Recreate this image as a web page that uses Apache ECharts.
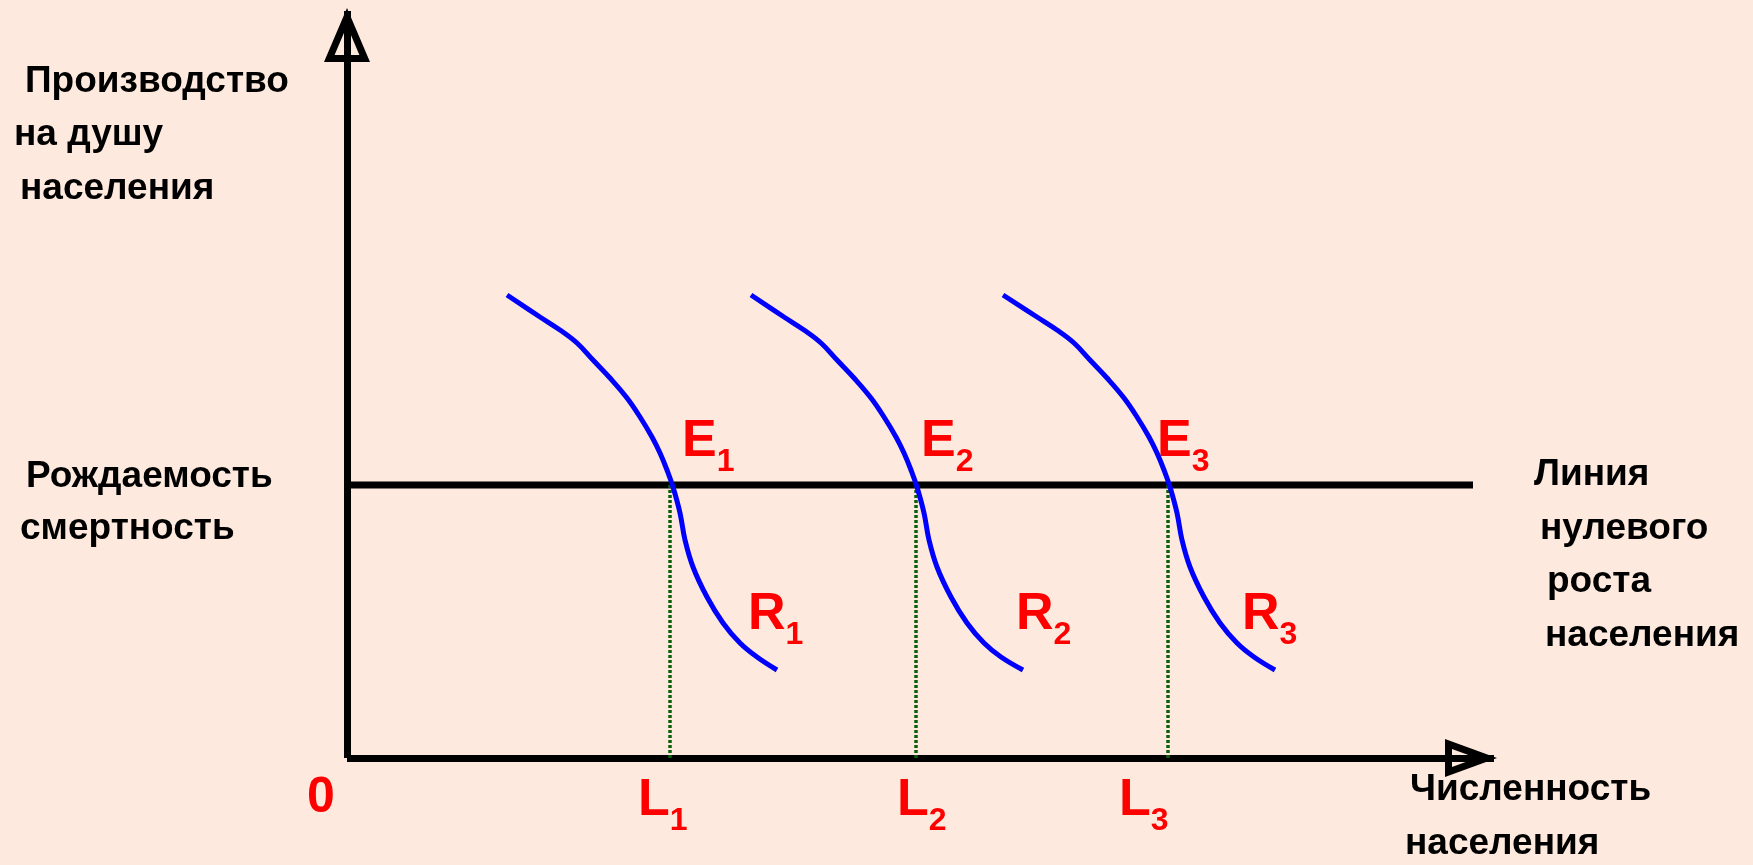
<!DOCTYPE html>
<html>
<head>
<meta charset="utf-8">
<title>Линия нулевого роста населения</title>
<script src="https://cdn.jsdelivr.net/npm/echarts@6/dist/echarts.min.js"></script>
<style>
  html, body { margin: 0; padding: 0; background: #fde9dd; }
  #chart { width: 1753px; height: 865px; }
</style>
</head>
<body>
<div id="chart"></div>
<script>
// value units: 1 unit = 10 px on both axes, origin in the corner of the axes
const zeroGrowthLevel = 27.3;   // рождаемость = смертность
const zeroGrowthEnd = 112.6;
const curveR1 = [[16.0, 46.3], [19.3, 44.1], [21.3, 42.8], [23.0, 41.5], [24.6, 39.8], [26.3, 38.0],
                 [28.0, 36.0], [29.3, 34.1], [30.5, 32.1], [31.3, 30.5], [32.0, 28.8], [32.6, 27.1],
                 [33.3, 24.5], [33.8, 21.8], [34.6, 19.1], [36.0, 16.1], [37.6, 13.5], [39.3, 11.5],
                 [41.0, 10.1], [43.0, 8.8]];
const curveR2 = [[40.4, 46.3], [43.7, 44.1], [45.7, 42.8], [47.4, 41.5], [49.0, 39.8], [50.7, 38.0],
                 [52.4, 36.0], [53.7, 34.1], [54.9, 32.1], [55.7, 30.5], [56.4, 28.8], [57.0, 27.1],
                 [57.7, 24.5], [58.2, 21.8], [59.0, 19.1], [60.4, 16.1], [62.0, 13.5], [63.7, 11.5],
                 [65.4, 10.1], [67.6, 8.8]];
const curveR3 = [[65.6, 46.3], [69.0, 44.1], [71.0, 42.8], [72.7, 41.5], [74.3, 39.8], [76.0, 38.0],
                 [77.7, 36.0], [79.0, 34.1], [80.2, 32.1], [81.0, 30.5], [81.7, 28.8], [82.3, 27.1],
                 [83.0, 24.5], [83.5, 21.8], [84.3, 19.1], [85.7, 16.1], [87.3, 13.5], [89.0, 11.5],
                 [90.7, 10.1], [92.8, 8.8]];
const equilibriumL = [32.3, 56.9, 82.1];
const indexNames = ['1', '2', '3'];

const chart = echarts.init(document.getElementById('chart'));

const FONT = '"Liberation Sans", Arial, sans-serif';

// open triangle for the axis ends: outer triangle and an inner one wound the other way
function arrowPath(w, h, t) {
    const side = Math.sqrt(w * w / 4 + h * h);
    const r = (w * h / 2) / ((w + 2 * side) / 2);
    const cy = h - r;
    const k = (r - t) / r;
    const top = cy - cy * k;
    const base = cy + (h - cy) * k;
    const half = w / 2 * k;
    return 'path://M' + w / 2 + ',0L' + w + ',' + h + 'L0,' + h + 'Z' +
        'M' + w / 2 + ',' + top + 'L' + (w / 2 - half) + ',' + base + 'L' + (w / 2 + half) + ',' + base + 'Z';
}

const ctx = document.createElement('canvas').getContext('2d');
function textWidth(s, size) {
    ctx.font = 'bold ' + size + 'px ' + FONT;
    return ctx.measureText(s).width;
}

// y is the baseline, text is drawn with 'middle'
function txt(s, x, baseline, size, color) {
    return {
        type: 'text',
        x: x,
        y: baseline - 0.3465 * size,
        silent: true,
        style: {
            text: s,
            font: 'bold ' + size + 'px ' + FONT,
            fill: color,
            align: 'left',
            verticalAlign: 'middle'
        }
    };
}

function indexed(letter, idx, x, baseline) {
    return [
        txt(letter, x, baseline, 52, '#ff0000'),
        txt(idx, x + textWidth(letter, 52), baseline + 13, 32, '#ff0000')
    ];
}

const blackLines = [
    ['Производство', 25, 95], ['на душу', 14, 148], ['населения', 20, 202],
    ['Рождаемость', 26, 490], ['смертность', 20, 542],
    ['Линия', 1534, 488], ['нулевого', 1540, 542], ['роста', 1547, 595], ['населения', 1545, 649],
    ['Численность', 1410, 803], ['населения', 1405, 857]
];
const eLabelX = [682, 921, 1157];
const rLabelX = [748, 1016, 1242];
const lLabelX = [638, 897, 1119];

let graphics = blackLines.map(l => txt(l[0], l[1], l[2], 37, '#000'));
graphics.push(txt('0', 307, 816, 50, '#ff0000'));
indexNames.forEach((n, i) => {
    graphics = graphics.concat(indexed('E', n, eLabelX[i], 460));
    graphics = graphics.concat(indexed('R', n, rLabelX[i], 633));
    graphics = graphics.concat(indexed('L', n, lLabelX[i], 819));
});

const series = [];
series.push({
    name: 'Линия нулевого роста',
    type: 'line',
    data: [[0, zeroGrowthLevel], [zeroGrowthEnd, zeroGrowthLevel]],
    symbol: 'none',
    lineStyle: { color: '#000', width: 7, cap: 'butt' },
    z: 2
});
equilibriumL.forEach((x, i) => {
    series.push({
        name: 'L' + indexNames[i],
        type: 'line',
        data: [[x, zeroGrowthLevel], [x, 0]],
        symbol: 'none',
        lineStyle: { color: '#0a5f0a', width: 3.5, type: [3, 2] },
        z: 3
    });
});
[curveR1, curveR2, curveR3].forEach((c, i) => {
    series.push({
        name: 'R' + indexNames[i],
        type: 'line',
        data: c,
        symbol: 'none',
        smooth: 0.4,
        lineStyle: { color: '#0000ff', width: 5 },
        z: 4
    });
});

const axisCommon = {
    type: 'value',
    min: 0,
    splitLine: { show: false },
    axisTick: { show: false },
    axisLabel: { show: false }
};

chart.setOption({
    backgroundColor: '#fde9dd',
    animation: false,
    grid: { left: 347, top: 11, width: 1147, height: 747 },
    xAxis: Object.assign({}, axisCommon, {
        max: 114.7,
        axisLine: {
            show: true,
            symbol: ['none', arrowPath(38, 52, 7)],
            symbolSize: [38, 52],
            symbolOffset: [0, -23],
            lineStyle: { color: '#000', width: 7, cap: 'butt' }
        }
    }),
    yAxis: Object.assign({}, axisCommon, {
        max: 74.7,
        axisLine: {
            show: true,
            symbol: ['none', arrowPath(46, 54, 7)],
            symbolSize: [46, 54],
            symbolOffset: [0, -24],
            lineStyle: { color: '#000', width: 7, cap: 'butt' }
        }
    }),
    graphic: graphics,
    series: series
});
</script>
</body>
</html>
